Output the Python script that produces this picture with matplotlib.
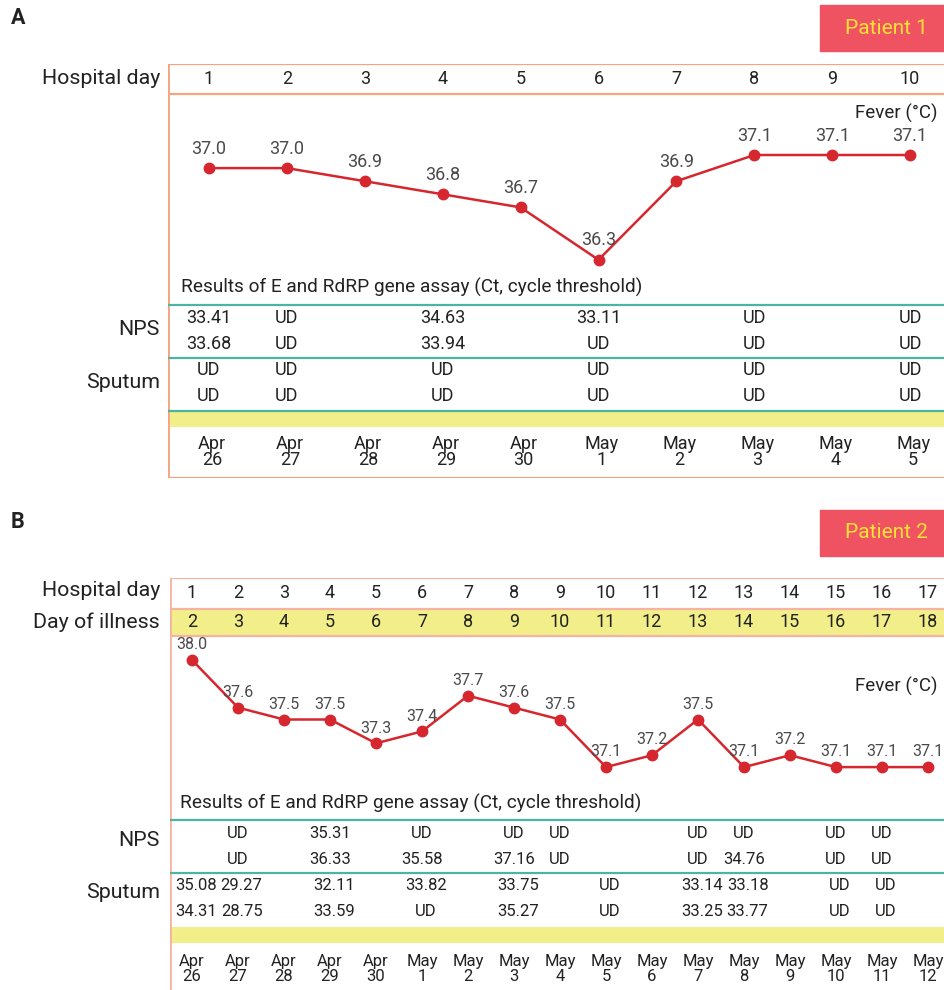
import matplotlib
matplotlib.use("Agg")
import matplotlib.pyplot as plt
from matplotlib.patches import Rectangle
from matplotlib.transforms import blended_transform_factory

plt.rcParams['font.family'] = ['Roboto', 'DejaVu Sans']

# ---- Patient 1 ----
hosp_day_a = ["1", "2", "3", "4", "5", "6", "7", "8", "9", "10"]
fever_a = [37.0, 37.0, 36.9, 36.8, 36.7, 36.3, 36.9, 37.1, 37.1, 37.1]
nps_a = [
    ["33.41", "UD", "", "34.63", "", "33.11", "", "UD", "", "UD"],
    ["33.68", "UD", "", "33.94", "", "UD", "", "UD", "", "UD"],
]
sputum_a = [
    ["UD", "UD", "", "UD", "", "UD", "", "UD", "", "UD"],
    ["UD", "UD", "", "UD", "", "UD", "", "UD", "", "UD"],
]
dates_a = ["Apr\n26", "Apr\n27", "Apr\n28", "Apr\n29", "Apr\n30",
           "May\n1", "May\n2", "May\n3", "May\n4", "May\n5"]

# ---- Patient 2 ----
hosp_day_b = ["1", "2", "3", "4", "5", "6", "7", "8", "9", "10", "11", "12",
              "13", "14", "15", "16", "17"]
illness_day_b = ["2", "3", "4", "5", "6", "7", "8", "9", "10", "11", "12", "13",
                 "14", "15", "16", "17", "18"]
fever_b = [38.0, 37.6, 37.5, 37.5, 37.3, 37.4, 37.7, 37.6, 37.5, 37.1, 37.2,
           37.5, 37.1, 37.2, 37.1, 37.1, 37.1]
nps_b = [
    ["", "UD", "", "35.31", "", "UD", "", "UD", "UD", "", "", "UD", "UD", "", "UD", "UD", ""],
    ["", "UD", "", "36.33", "", "35.58", "", "37.16", "UD", "", "", "UD", "34.76", "", "UD", "UD", ""],
]
sputum_b = [
    ["35.08", "29.27", "", "32.11", "", "33.82", "", "33.75", "", "UD", "", "33.14", "33.18", "", "UD", "UD", ""],
    ["34.31", "28.75", "", "33.59", "", "UD", "", "35.27", "", "UD", "", "33.25", "33.77", "", "UD", "UD", ""],
]
dates_b = ["Apr\n26", "Apr\n27", "Apr\n28", "Apr\n29", "Apr\n30", "May\n1",
           "May\n2", "May\n3", "May\n4", "May\n5", "May\n6", "May\n7",
           "May\n8", "May\n9", "May\n10", "May\n11", "May\n12"]

W, H = 945, 990
RED = "#D6262E"
TEAL = "#4DB3A5"
YELLOW = "#F2EE8A"
TXT = "#222222"
GRAY = "#4A4A4A"

fig = plt.figure(figsize=(W / 100, H / 100), dpi=100)


def px_axes(x0, y0, x1, y1):
    ax = fig.add_axes([x0 / W, 1 - y1 / H, (x1 - x0) / W, (y1 - y0) / H])
    ax.set_axis_off()
    ax.patch.set_alpha(0)
    return ax


def ftext(x, y, s, **kw):
    fig.text(x / W, 1 - y / H, s, **kw)


def patient_tag(y0, label):
    fig.patches.append(Rectangle((820 / W, 1 - (y0 + 46) / H), 125 / W, 46 / H,
                                 transform=fig.transFigure, color="#EF5362", zorder=0))
    ftext(886, y0 + 23, label, ha="center", va="center", fontsize=15, color="#FFE135")


def panel(top, bottom, left, x_first, x_step, n, border, rows):
    # frame axes: x = column number, y = pixel rows from the top of the image
    ax = px_axes(left, top, W, bottom)
    lo = 1 - (x_first - left) / x_step
    hi = n + (W - (x_first + x_step * (n - 1))) / x_step
    ax.set_xlim(lo, hi)
    ax.set_ylim(bottom, top)
    ax.axvline(lo, color=border, lw=2)
    for y in rows:
        ax.axhline(y, color=border, lw=1.6)
    return ax, (lo, hi)


cols_a = list(range(1, len(hosp_day_a) + 1))
cols_b = list(range(1, len(hosp_day_b) + 1))

# ======================= Panel A =======================
ftext(18, 18, "A", fontsize=15.5, fontweight="bold", ha="center", va="center", color=TXT)
patient_tag(5, "Patient 1")
ORANGE = "#F6A47F"
axA, xlimA = panel(64, 478, 168, 209, 77.9, 10, ORANGE, [64, 94, 478])
axA.axhspan(411, 427, color=YELLOW, lw=0)
for y in (305, 358, 411):
    axA.axhline(y, color=TEAL, lw=1.6)
for c, s in zip(cols_a, hosp_day_a):
    axA.text(c, 79, s, ha="center", va="center", fontsize=13, color=TXT)
for r, y in enumerate((318, 344)):
    for c, s in zip(cols_a, nps_a[r]):
        axA.text(c, y, s, ha="center", va="center", fontsize=13, color=TXT)
for r, y in enumerate((370, 396)):
    for c, s in zip(cols_a, sputum_a[r]):
        axA.text(c, y, s, ha="center", va="center", fontsize=13, color=TXT)
for c, s in zip(cols_a, dates_a):
    axA.text(c + 0.04, 452, s, ha="center", va="center", fontsize=13,
             color=TXT, linespacing=0.92)
tA = blended_transform_factory(axA.transAxes, axA.transData)
axA.text(13 / 777, 287, "Results of E and RdRP gene assay (Ct, cycle threshold)",
         transform=tA, ha="left", va="center", fontsize=13.7, color=TXT)
axA.text(0.99, 113, "Fever (°C)", transform=tA, ha="right", va="center",
         fontsize=13.5, color=TXT)
ftext(160, 79, "Hospital day", ha="right", va="center", fontsize=15.4, color=TXT)
ftext(160, 330, "NPS", ha="right", va="center", fontsize=15.4, color=TXT)
ftext(160, 382, "Sputum", ha="right", va="center", fontsize=15.4, color=TXT)

# fever curve: 131 px per degree, 37.1 sits at pixel row 155
fevA = px_axes(168, 94, W, 300)
fevA.set_xlim(*xlimA)
fevA.set_ylim(37.1 - 145 / 131, 37.1 + 61 / 131)
fevA.plot(cols_a, fever_a, color=RED, lw=1.8, marker="o", ms=7.5, zorder=3)
for c, v in zip(cols_a, fever_a):
    fevA.annotate(f"{v:.1f}", (c, v), xytext=(0, 14), textcoords="offset points",
                  ha="center", va="center", fontsize=13, color=GRAY)

# ======================= Panel B =======================
ftext(18, 522, "B", fontsize=15.5, fontweight="bold", ha="center", va="center", color=TXT)
patient_tag(510, "Patient 2")
PINK = "#F5B3A0"
axB, xlimB = panel(578, 990, 170, 192, 46.0, 17, PINK, [578, 609, 636])
axB.axhspan(609, 636, color=YELLOW, lw=0)
axB.axhspan(927, 943, color=YELLOW, lw=0)
for y in (820, 873):
    axB.axhline(y, color=TEAL, lw=1.6)
for c, s in zip(cols_b, hosp_day_b):
    axB.text(c, 593, s, ha="center", va="center", fontsize=13, color=TXT)
for c, s in zip(cols_b, illness_day_b):
    axB.text(c, 622, s, ha="center", va="center", fontsize=13, color=TXT)
for r, y in enumerate((833, 859)):
    for c, s in zip(cols_b, nps_b[r]):
        axB.text(c, y, s, ha="center", va="center", fontsize=12, color=TXT)
for r, y in enumerate((886, 912)):
    for c, s in zip(cols_b, sputum_b[r]):
        axB.text(c + 0.08, y, s, ha="center", va="center", fontsize=12, color=TXT)
for c, s in zip(cols_b, dates_b):
    axB.text(c, 969, s, ha="center", va="center", fontsize=12,
             color=TXT, linespacing=0.92)
tB = blended_transform_factory(axB.transAxes, axB.transData)
axB.text(10 / 775, 803, "Results of E and RdRP gene assay (Ct, cycle threshold)",
         transform=tB, ha="left", va="center", fontsize=13.7, color=TXT)
axB.text(0.99, 686, "Fever (°C)", transform=tB, ha="right", va="center",
         fontsize=13.5, color=TXT)
ftext(160, 591, "Hospital day", ha="right", va="center", fontsize=15.4, color=TXT)
ftext(160, 622, "Day of illness", ha="right", va="center", fontsize=15.4, color=TXT)
ftext(160, 841, "NPS", ha="right", va="center", fontsize=15.4, color=TXT)
ftext(160, 893, "Sputum", ha="right", va="center", fontsize=15.4, color=TXT)

# fever curve: 119 px per degree, 38.0 sits at pixel row 660
fevB = px_axes(170, 636, W, 790)
fevB.set_xlim(*xlimB)
fevB.set_ylim(38.0 - 130 / 119, 38.0 + 24 / 119)
fevB.plot(cols_b, fever_b, color=RED, lw=1.8, marker="o", ms=7.5, zorder=3)
for c, v in zip(cols_b, fever_b):
    fevB.annotate(f"{v:.1f}", (c, v), xytext=(0, 11), textcoords="offset points",
                  ha="center", va="center", fontsize=11.5, color=GRAY)

fig.savefig("out.png", dpi=100)
